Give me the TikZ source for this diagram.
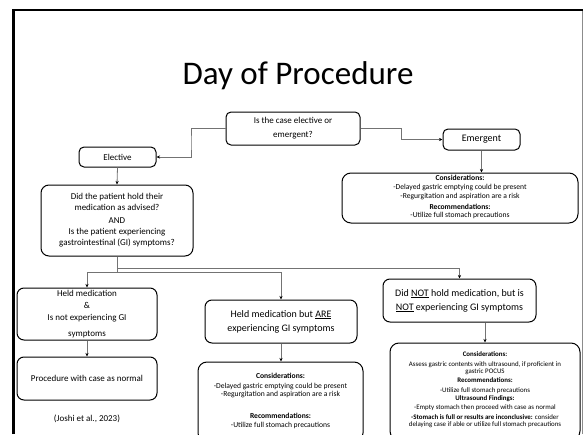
\documentclass[tikz,border=0pt]{standalone}
\usepackage{fontspec}
\setmainfont{Carlito}
\usetikzlibrary{arrows.meta,calc}
% heavy underline used for emphasised words
\newcommand\thickul[1]{\setbox0\hbox{#1}\rlap{\rule[-1.6pt]{\wd0}{1.1pt}}\box0\relax}
\begin{document}
\begin{tikzpicture}[x=1pt,y=-1pt,
  box/.style={draw=black,line width=1pt,rounded corners=5pt,fill=white,align=center,inner sep=1pt},
  bigbox/.style={box,rounded corners=9pt},
  conn/.style={draw=black!55,line width=0.8pt,-{Stealth[length=3.6pt,width=3.2pt,color=black]}},
  plain/.style={draw=black!55,line width=0.8pt},
  lab/.style={font=\fontsize{9}{11}\selectfont},
  labbig/.style={font=\fontsize{10}{14}\selectfont},
  note/.style={align=center,inner sep=0pt,anchor=north}]
\useasboundingbox (0,0) rectangle (584,434);
\fill[white] (0,0) rectangle (584,434);

% slide frame
\draw[black!45,line width=0.8pt] (582,10) -- (582,434);
\draw[black,line width=2.6pt] (13.5,434) -- (13.5,10) -- (582.5,10);

% title
\node[anchor=base,font=\fontsize{33}{40}\selectfont] (title) at (298,84) {Day of Procedure};

% first question and its two answers
\node[box,minimum width=134pt,minimum height=33pt,font=\fontsize{9}{14}\selectfont] (q1) at (293,128.5)
  {Is the case elective or\\emergent?};
\node[box,lab,minimum width=77pt,minimum height=20pt] (elective) at (117.5,157) {Elective};
\node[box,font=\fontsize{10}{12}\selectfont,minimum width=77pt,minimum height=21pt] (emergent) at (481.5,139.5) {Emergent};

% emergent branch
\node[bigbox,minimum width=236pt,minimum height=50pt] (emcons) at (460,198) {};
\node[note,font=\fontsize{7.6}{8.7}\selectfont] (emtext) at (460,175.2)
  {\textbf{Considerations:}\\-Delayed gastric emptying could be present\\-Regurgitation and aspiration are a risk\\[2.3pt]
   \textbf{Recommendations:}\\-Utilize full stomach precautions};

% elective branch: the medication question
\node[box,rounded corners=8pt,font=\fontsize{9}{11}\selectfont,minimum width=152pt,minimum height=71pt] (q2) at (117,220.5)
  {Did the patient hold their\\medication as advised?\\[2pt]AND\\Is the patient experiencing\\gastrointestinal (GI) symptoms?};

% three outcomes
\node[box,rounded corners=7pt,minimum width=140pt,minimum height=52pt] (held) at (87,314) {};
\node[note,font=\fontsize{9}{11.8}\selectfont] (heldtext) at (87,290.5)
  {Held medication\\\&\\Is not experiencing GI\\[4pt]symptoms};
\node[box,rounded corners=7pt,lab,minimum width=140pt,minimum height=43pt] (proc) at (87,378.5)
  {Procedure with case as normal};
\node[font=\fontsize{9}{11}\selectfont] (ref) at (87,419) {(Joshi et al., 2023)};

\node[box,rounded corners=7pt,labbig,minimum width=152pt,minimum height=43pt] (are) at (281,321.5)
  {Held medication but \thickul{ARE}\\experiencing GI symptoms};
\node[bigbox,minimum width=165pt,minimum height=80pt] (arecons) at (280.5,402) {};
\node[note,font=\fontsize{7.6}{8.5}\selectfont] (aretext) at (280.5,372.5)
  {\textbf{Considerations:}\\[1.5pt]-Delayed gastric emptying could be present\\-Regurgitation and aspiration are a risk\\[13.5pt]
   \textbf{Recommendations:}\\-Utilize full stomach precautions};

\node[box,rounded corners=7pt,labbig,minimum width=153pt,minimum height=43pt] (notbox) at (459.5,300.5)
  {Did \thickul{NOT} hold medication, but is\\\thickul{NOT} experiencing GI symptoms};
\node[bigbox,minimum width=190pt,minimum height=97pt] (notcons) at (485,391.5) {};
\node[note,font=\fontsize{6.9}{7.6}\selectfont] (nottext) at (485,351.5)
  {\textbf{Considerations:}\\[2.2pt]Assess gastric contents with ultrasound, if proficient in\\gastric POCUS\\[0.8pt]
   \textbf{Recommendations:}\\[3pt]-Utilize full stomach precautions\\
   \textbf{Ultrasound Findings:}\\[1.7pt]-Empty stomach then proceed with case as normal\\[1.7pt]
   \textbf{-Stomach is full or results are inconclusive:} consider\\delaying case if able or utilize full stomach precautions};

% connectors
\draw[conn] (q1.west) -| ($(q1.west)!.5!(elective.east)$) |- (elective.east);
\draw[conn] (q1.east) -| ($(q1.east)!.5!(emergent.west)$) |- (emergent.west);
\draw[conn] (emergent.south) -- (emergent.south |- emcons.north);
\draw[conn] (elective.south) -- (q2.north);

\coordinate (split) at ($(q2.south)+(0,16)$);
\coordinate (splitnot) at ($(q2.south)+(0,12)$);
\draw[plain] (q2.south) -- (split);
\draw[conn] (split) -| (held.north);
\draw[conn] (split) -| (are.north);
\draw[conn] (splitnot) -| (notbox.north);

\draw[conn] (held.south) -- (proc.north);
\draw[conn] (are.south) -- (are.south |- arecons.north);
\draw[conn] (notbox.south -| notcons.north) -- (notcons.north);
\end{tikzpicture}
\end{document}
